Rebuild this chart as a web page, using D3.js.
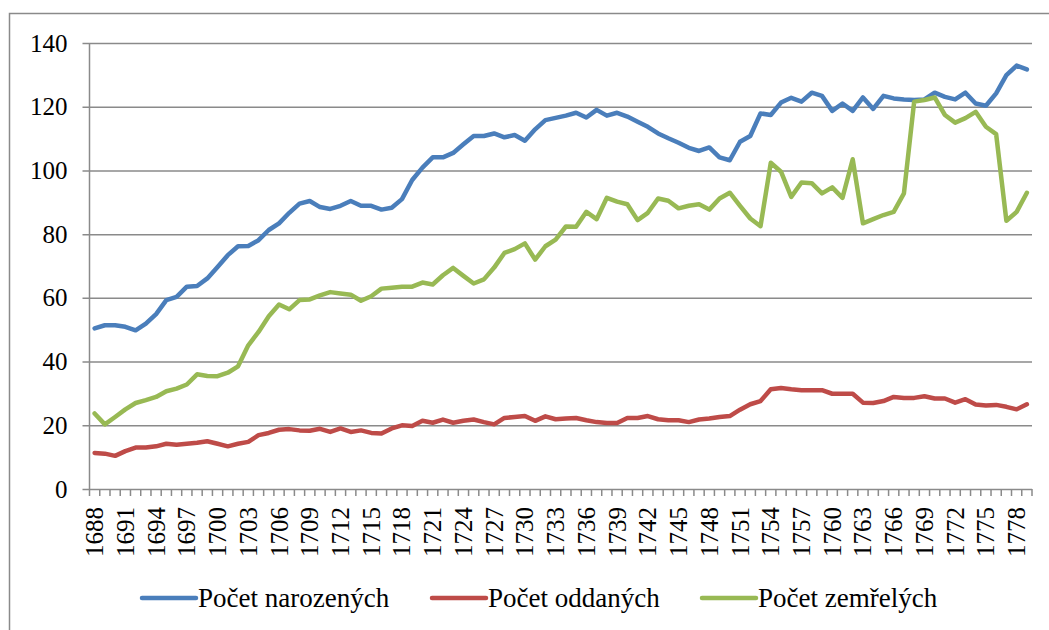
<!DOCTYPE html>
<html>
<head>
<meta charset="utf-8">
<script src="https://cdn.jsdelivr.net/npm/d3@7"></script>
<style>
    html, body { margin: 0; padding: 0; background: #fff; }
    svg { display: block; }
    svg text { font-family: "Liberation Serif", "Times New Roman", Tinos, "DejaVu Serif", "Noto Serif", serif; }
</style>
</head>
<body>
<svg id="chart" width="1049" height="630"></svg>
<script>
// Roky (kategorie)
const years = [1688,1689,1690,1691,1692,1693,1694,1695,1696,1697,1698,1699,1700,1701,1702,1703,1704,1705,1706,1707,
    1708,1709,1710,1711,1712,1713,1714,1715,1716,1717,1718,1719,1720,1721,1722,1723,1724,1725,1726,1727,
    1728,1729,1730,1731,1732,1733,1734,1735,1736,1737,1738,1739,1740,1741,1742,1743,1744,1745,1746,1747,
    1748,1749,1750,1751,1752,1753,1754,1755,1756,1757,1758,1759,1760,1761,1762,1763,1764,1765,1766,1767,
    1768,1769,1770,1771,1772,1773,1774,1775,1776,1777,1778,1779];

const births = [50.4,51.4,51.4,50.9,49.8,51.9,54.9,59.3,60.3,63.5,63.7,66.1,69.7,73.4,76.2,76.3,78.1,81.3,83.4,86.7,
    89.6,90.4,88.5,87.9,88.9,90.4,88.9,88.9,87.7,88.3,91.0,97.0,100.9,104.1,104.1,105.5,108.2,110.8,110.8,111.6,
    110.4,111.1,109.3,112.9,115.8,116.5,117.2,118.1,116.6,119.0,117.2,118.1,116.9,115.3,113.7,111.6,110.1,108.7,107.1,106.1,
    107.2,104.1,103.2,109.0,110.8,117.9,117.4,121.3,122.8,121.6,124.4,123.4,118.7,121.0,118.7,122.9,119.3,123.4,122.6,122.3,
    122.1,122.3,124.4,123.1,122.3,124.4,121.0,120.3,124.2,129.9,132.9,131.7];

const marriages = [11.3,11.1,10.4,11.9,13.0,13.0,13.4,14.2,13.9,14.2,14.5,15.0,14.2,13.4,14.2,14.8,16.9,17.6,18.6,18.8,
    18.4,18.3,18.9,17.9,19.0,17.9,18.4,17.6,17.4,19.0,20.0,19.8,21.4,20.8,21.8,20.8,21.4,21.8,21.0,20.3,
    22.3,22.6,22.9,21.4,22.8,21.9,22.1,22.3,21.6,21.0,20.7,20.7,22.3,22.3,22.9,21.9,21.6,21.6,21.0,21.8,
    22.1,22.6,22.9,24.9,26.6,27.6,31.3,31.7,31.3,31.0,31.0,31.0,29.9,29.9,29.9,27.1,27.0,27.6,28.9,28.6,
    28.6,29.1,28.4,28.4,27.1,28.2,26.5,26.2,26.4,25.8,25.0,26.6];

const deaths = [23.7,20.3,22.6,25.0,27.0,27.9,28.9,30.7,31.5,32.8,36.0,35.5,35.4,36.5,38.5,45.1,49.3,54.2,57.9,56.4,
    59.3,59.5,60.8,61.8,61.4,61.0,59.1,60.5,62.9,63.2,63.5,63.5,64.8,64.2,67.1,69.4,66.9,64.5,65.8,69.5,
    74.1,75.3,77.1,72.0,76.2,78.3,82.4,82.3,87.0,84.7,91.4,90.2,89.4,84.4,86.7,91.2,90.5,88.1,88.9,89.4,
    87.7,91.2,93.0,88.9,84.9,82.5,102.4,99.6,91.7,96.2,96.0,92.8,94.7,91.4,103.5,83.4,84.7,86.0,87.0,92.8,
    121.6,122.1,122.9,117.4,115.0,116.4,118.4,113.7,111.4,84.2,87.0,93.0];

const yTicks = [0, 20, 40, 60, 80, 100, 120, 140];

const seriesNames = ['Počet narozených', 'Počet oddaných', 'Počet zemřelých'];
const seriesColors = ['#4a7ebb', '#be4b48', '#98b954'];

const svg = d3.select('#chart');
const gridColor = '#8a8a8a';
const plot = { left: 89.5, right: 1032, top: 43, bottom: 489 };

// Rám kolem grafu
svg.append('path')
    .attr('d', 'M9.5,630 L9.5,13.5 L1049,13.5')
    .attr('fill', 'none')
    .attr('stroke', gridColor)
    .attr('stroke-width', 1.5);

const x = d3.scaleBand().domain(years).range([plot.left, plot.right]).padding(0);
const y = d3.scaleLinear().domain([0, 140]).range([plot.bottom, plot.top]);
const cx = d => x(d) + x.bandwidth() / 2;

// Mřížka + osa Y
const yAxis = d3.axisLeft(y).tickValues(yTicks).tickSize(plot.right - plot.left + 7).tickPadding(15);
const gy = svg.append('g').attr('transform', `translate(${plot.right},0)`).call(yAxis);
gy.attr('font-family', null);
gy.select('.domain').remove();
gy.selectAll('.tick line').attr('stroke', gridColor).attr('stroke-width', 1.5);
gy.selectAll('.tick text')
    .attr('font-size', '25px')
    .attr('fill', '#000');

svg.append('line')
    .attr('x1', plot.left).attr('x2', plot.left)
    .attr('y1', plot.top).attr('y2', plot.bottom)
    .attr('stroke', gridColor).attr('stroke-width', 1.5);

// Osa X: značky na hranicích kategorií
const bounds = years.map(d => x(d)).concat([plot.right]);
svg.append('g').selectAll('line')
    .data(bounds).enter().append('line')
    .attr('x1', d => d).attr('x2', d => d)
    .attr('y1', plot.bottom).attr('y2', plot.bottom + 7)
    .attr('stroke', gridColor).attr('stroke-width', 1.5);

svg.append('g').selectAll('text')
    .data(years.filter((d, i) => i % 3 === 0)).enter().append('text')
    .attr('transform', d => `translate(${cx(d)},507) rotate(-90)`)
    .attr('text-anchor', 'end')
    .attr('dy', '0.34em')
    .attr('font-size', '25px')
    .attr('fill', '#000')
    .text(d => d);

// Čáry
const line = d3.line()
    .x((v, i) => cx(years[i]))
    .y(v => y(v));

[births, marriages, deaths].forEach((values, k) => {
    svg.append('path')
        .datum(values)
        .attr('d', line)
        .attr('fill', 'none')
        .attr('stroke', seriesColors[k])
        .attr('stroke-width', 4.5)
        .attr('stroke-linejoin', 'round')
        .attr('stroke-linecap', 'round');
});

// Legenda
const legendX = [142, 432, 702];
const legend = svg.append('g').selectAll('g')
    .data(seriesNames).enter().append('g')
    .attr('transform', (d, i) => `translate(${legendX[i]},598)`);

legend.append('line')
    .attr('x1', 0).attr('x2', 54)
    .attr('stroke', (d, i) => seriesColors[i])
    .attr('stroke-width', 4.5)
    .attr('stroke-linecap', 'round');

legend.append('text')
    .attr('x', 56)
    .attr('y', 8.5)
    .attr('font-size', '27px')
    .attr('fill', '#000')
    .text(d => d);
</script>
</body>
</html>
